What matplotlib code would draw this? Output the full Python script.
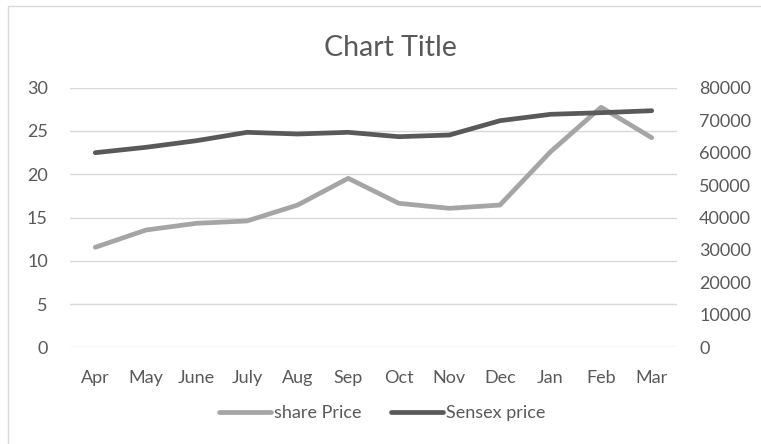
import matplotlib
matplotlib.use("Agg")
import matplotlib.pyplot as plt
from matplotlib.patches import Rectangle

months = ["Apr", "May", "June", "July", "Aug", "Sep", "Oct", "Nov", "Dec", "Jan", "Feb", "Mar"]
share_price = [11.56, 13.55, 14.33, 14.6, 16.44, 19.53, 16.64, 16.06, 16.44, 22.6, 27.74, 24.22]
sensex_price = [59970, 61630, 63670, 66250, 65730, 66250, 64900, 65420, 69830, 71800, 72300, 72910]
left_ticks = [0, 5, 10, 15, 20, 25, 30]
right_ticks = [0, 10000, 20000, 30000, 40000, 50000, 60000, 70000, 80000]

plt.rcParams['font.family'] = ['Lato', 'DejaVu Sans']
txt = "#595959"
fs = 13
W, H = 761, 444
fig = plt.figure(figsize=(W / 100, H / 100), dpi=100)
fig.patches.append(Rectangle((8 / W, -1), 2, 2 - 6 / H, transform=fig.transFigure,
                             fill=False, edgecolor="#D9D9D9", lw=1.0))

ax = fig.add_axes([70 / W, 1 - 347.3 / H, (677 - 70) / W, (347.3 - 87.7) / H])
x = list(range(len(months)))
ax.set_xlim(-0.5, len(months) - 0.5)
ax.set_ylim(0, 30)
ax.set_yticks(left_ticks)
ax.grid(axis='y', color="#D9D9D9", lw=1.0)
ax.set_axisbelow(True)
for s in ax.spines.values():
    s.set_visible(False)
ax.tick_params(length=0, labelsize=fs, colors=txt)
ax.tick_params(axis='y', pad=16)
ax.tick_params(axis='x', pad=16)
ax.set_xticks(x)
ax.set_xticklabels(months)

ax2 = ax.twinx()
ax2.set_ylim(0, 80000)
ax2.set_yticks(right_ticks)
for s in ax2.spines.values():
    s.set_visible(False)
ax2.tick_params(length=0, labelsize=fs, colors=txt, pad=16)

l1, = ax2.plot(x, [v * 80000 / 30 for v in share_price], color="#A5A5A5", lw=3.4,
               solid_capstyle='round', solid_joinstyle='round', label="share Price")
l2, = ax2.plot(x, sensex_price, color="#595959", lw=3.4,
               solid_capstyle='round', solid_joinstyle='round', label="Sensex price")

fig.text(390 / W, 1 - 48 / H, "Chart Title", ha='center', va='center', fontsize=20.5, color=txt)

leg = fig.legend(handles=[l1, l2], loc='center', bbox_to_anchor=(382 / W, 1 - 413 / H),
                 ncol=2, frameon=False, fontsize=fs, handlelength=2.9, handletextpad=0.15,
                 columnspacing=1.6, labelcolor=txt)

fig.savefig("out.png", dpi=100)
